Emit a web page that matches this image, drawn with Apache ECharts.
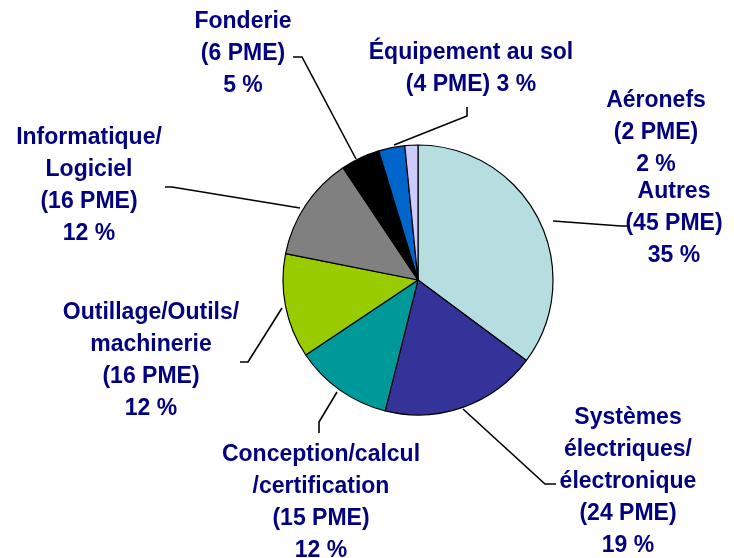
<!DOCTYPE html>
<html>
<head>
<meta charset="utf-8">
<script src="https://cdn.jsdelivr.net/npm/echarts@6/dist/echarts.min.js"></script>
<style>
  html, body { margin: 0; padding: 0; background: #fff; }
  #chart { width: 734px; height: 558px; }
</style>
</head>
<body>
<div id="chart"></div>
<script>
// secteurs, dans l'ordre horaire depuis midi
const sectors = [
  'Autres',
  'Systèmes\nélectriques/\nélectronique',
  'Conception/calcul\n/certification',
  'Outillage/Outils/\nmachinerie',
  'Informatique/\nLogiciel',
  'Fonderie',
  'Équipement au sol',
  'Aéronefs'
];
const pmeCounts = [45, 24, 15, 16, 16, 6, 4, 2];
const colors = ['#b6dee0', '#333399', '#009999', '#99cc00', '#808080', '#000000', '#0066cc', '#ccccff'];

// placement des étiquettes (centre x, haut y) et lignes de rappel
const labelPos = [
  [674, 176], [628, 402], [321, 439], [151, 297],
  [89, 122], [243, 6], [471, 37], [656, 85]
];
const leaderLines = [
  [[553, 221], [621, 226], [630, 226]],
  [[463, 409], [545, 484], [556, 484]],
  [[337, 392], [319, 422], [319, 433]],
  [[282, 308], [248, 362], [240, 362]],
  [[300, 208], [172, 187], [165, 187]],
  [[356, 159], [302, 57], [293, 57]],
  [[394, 145], [467, 116], [467, 107]],
  null
];

const chart = echarts.init(document.getElementById('chart'));
chart.setOption({
  animation: false,
  series: [
    {
      type: 'pie',
      center: [418, 280],
      radius: 135,
      startAngle: 90,
      clockwise: true,
      avoidLabelOverlap: false,
      percentPrecision: 0,
      silent: true,
      itemStyle: { borderColor: '#000', borderWidth: 1.2 },
      label: {
        show: true,
        color: '#000080',
        fontFamily: 'Liberation Sans, Arial, sans-serif',
        fontWeight: 'bold',
        fontSize: 23,
        lineHeight: 32,
        align: 'center',
        formatter: p =>
          p.name + '\n(' + p.value + ' PME)' + (p.dataIndex === 6 ? ' ' : '\n') + p.percent + ' %'
      },
      labelLine: {
        show: true,
        lineStyle: { color: '#000', width: 1.6 }
      },
      labelLayout: params => {
        const i = params.dataIndex;
        const out = {
          x: labelPos[i][0],
          y: labelPos[i][1],
          align: 'center',
          verticalAlign: 'top'
        };
        if (leaderLines[i]) out.labelLinePoints = leaderLines[i];
        return out;
      },
      data: sectors.map((name, i) => ({
        name: name,
        value: pmeCounts[i],
        itemStyle: { color: colors[i] },
        labelLine: { show: leaderLines[i] !== null }
      }))
    }
  ]
});
</script>
</body>
</html>
